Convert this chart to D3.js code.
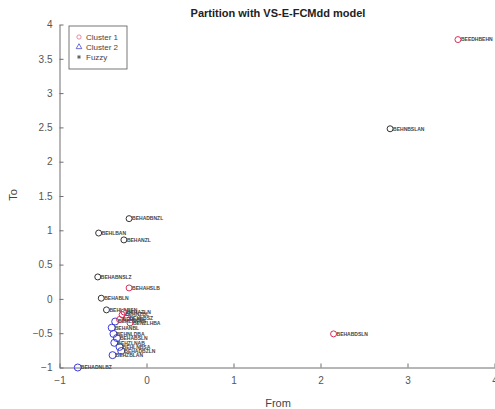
<!DOCTYPE html>
<html>
<head>
<meta charset="utf-8">
<script src="https://cdn.jsdelivr.net/npm/d3@7"></script>
<style>
  body { margin: 0; background: #fff; }
  text { font-family: "Liberation Sans", Arial, sans-serif; }
</style>
</head>
<body>
<div id="chart"></div>
<script>
const width = 495;
const height = 409;

// cluster 1 (red)
const c1X = [3.58, 2.15, -0.20, -0.28, -0.23, -0.31, -0.19, -0.26];
const c1Y = [3.78, -0.51, 0.16, -0.23, -0.28, -0.30, -0.35, -0.19];
const c1Labels = ['BEEDHBEHN', 'BEHABDSLN', 'BEHAHSLB', 'BEHNZBL', 'BEHLBSZ', 'BEHLAB', 'BENZLHBA', 'BEHAZLN'];

// cluster 2 (blue)
const c2X = [-0.36, -0.40, -0.38, -0.34, -0.37, -0.31, -0.29, -0.39, -0.79];
const c2Y = [-0.33, -0.42, -0.51, -0.57, -0.64, -0.70, -0.76, -0.82, -1.00];
const c2Labels = ['BEHLSNAB', 'BEHANBL', 'BEHNLDBA', 'BEHABSLN', 'BEHZLNAB', 'BEHLNBSA', 'BEHADBZLN', 'BEHZBLAN', 'BEHADNLBZ'];

// fuzzy (black)
const fzX = [2.80, -0.20, -0.55, -0.26, -0.56, -0.52, -0.46];
const fzY = [2.48, 1.17, 0.96, 0.86, 0.32, 0.01, -0.16];
const fzLabels = ['BEHNBSLAN', 'BEHADBNZL', 'BEHLBAN', 'BEHANZL', 'BEHABNSLZ', 'BEHABLN', 'BEHLABSN'];

const xTicks = [-1, 0, 1, 2, 3, 4];
const yTicks = [-1, -0.5, 0, 0.5, 1, 1.5, 2, 2.5, 3, 3.5, 4];
const legendItems = ['Cluster 1', 'Cluster 2', 'Fuzzy'];

const zip = (xs, ys, ls) => xs.map((x, i) => ({x, y: ys[i], label: ls[i]}));

const svg = d3.select('#chart')
  .append('svg')
    .attr('width', width)
    .attr('height', height);

const x = d3.scaleLinear().domain([-1, 4]).range([59.5, 494.5]);
const y = d3.scaleLinear().domain([-1, 4]).range([367.5, 24.5]);

const axisColor = '#6e6e6e';
const tickText = '#555';

// axes (MATLAB style: ticks inside, box off)
const xAxis = svg.append('g')
  .attr('transform', `translate(0,${y(-1)})`)
  .call(d3.axisBottom(x).tickValues(xTicks).tickSizeInner(-4).tickSizeOuter(0).tickPadding(9).tickFormat(d3.format('')));
const yAxis = svg.append('g')
  .attr('transform', `translate(${x(-1)},0)`)
  .call(d3.axisLeft(y).tickValues(yTicks).tickSizeInner(-4).tickSizeOuter(0).tickPadding(7).tickFormat(d3.format('')));

[xAxis, yAxis].forEach(g => {
  g.select('.domain').attr('stroke', axisColor);
  g.selectAll('.tick line').attr('stroke', axisColor);
  g.selectAll('.tick text').attr('fill', tickText).attr('font-size', 10);
});

// title and axis labels
svg.append('text')
  .attr('x', 278).attr('y', 17)
  .attr('text-anchor', 'middle')
  .attr('font-size', 11).attr('font-weight', 'bold')
  .attr('fill', '#222')
  .text('Partition with VS-E-FCMdd model');

svg.append('text')
  .attr('x', 278).attr('y', 407)
  .attr('text-anchor', 'middle')
  .attr('font-size', 11).attr('fill', '#444')
  .text('From');

svg.append('text')
  .attr('transform', 'translate(17,195) rotate(-90)')
  .attr('text-anchor', 'middle')
  .attr('font-size', 11).attr('fill', '#444')
  .text('To');

// point groups
const groups = [
  {data: zip(fzX, fzY, fzLabels), color: '#333', r: 3},
  {data: zip(c2X, c2Y, c2Labels), color: '#3a3ad8', r: 3.5},
  {data: zip(c1X, c1Y, c1Labels), color: '#d8305a', r: 3}
];

groups.forEach(gr => {
  const g = svg.append('g');
  g.selectAll('circle')
    .data(gr.data)
    .enter()
    .append('circle')
      .attr('cx', d => x(d.x))
      .attr('cy', d => y(d.y))
      .attr('r', gr.r)
      .attr('fill', 'none')
      .attr('stroke', gr.color)
      .attr('stroke-width', 1);
  g.selectAll('text')
    .data(gr.data)
    .enter()
    .append('text')
      .attr('x', d => x(d.x) + 3)
      .attr('y', d => y(d.y) + 1.8)
      .attr('font-size', 5)
      .attr('font-weight', 'bold')
      .attr('fill', '#444')
      .text(d => d.label);
});

// legend
const legend = svg.append('g').attr('transform', 'translate(69,26)');
legend.append('rect')
  .attr('width', 58).attr('height', 43)
  .attr('fill', '#fff').attr('stroke', '#555').attr('stroke-width', 0.8);

const ly = d3.scalePoint().domain(legendItems).range([11, 31]);
const lg = legend.selectAll('.item')
  .data(legendItems)
  .enter()
  .append('g')
    .attr('class', 'item')
    .attr('transform', d => `translate(0,${ly(d)})`);

lg.append('path')
  .attr('transform', 'translate(10,0)')
  .attr('d', (d, i) => i === 0
    ? d3.symbol(d3.symbolCircle, 14)()
    : i === 1 ? d3.symbol(d3.symbolTriangle, 14)() : d3.symbol(d3.symbolAsterisk || d3.symbolCross, 12)())
  .attr('fill', 'none')
  .attr('stroke', (d, i) => ['#e0708a', '#4a4ad0', '#444'][i])
  .attr('stroke-width', 0.8);

lg.append('text')
  .attr('x', 17).attr('y', 3)
  .attr('font-size', 8).attr('fill', '#444')
  .text(d => d);
</script>
</body>
</html>
